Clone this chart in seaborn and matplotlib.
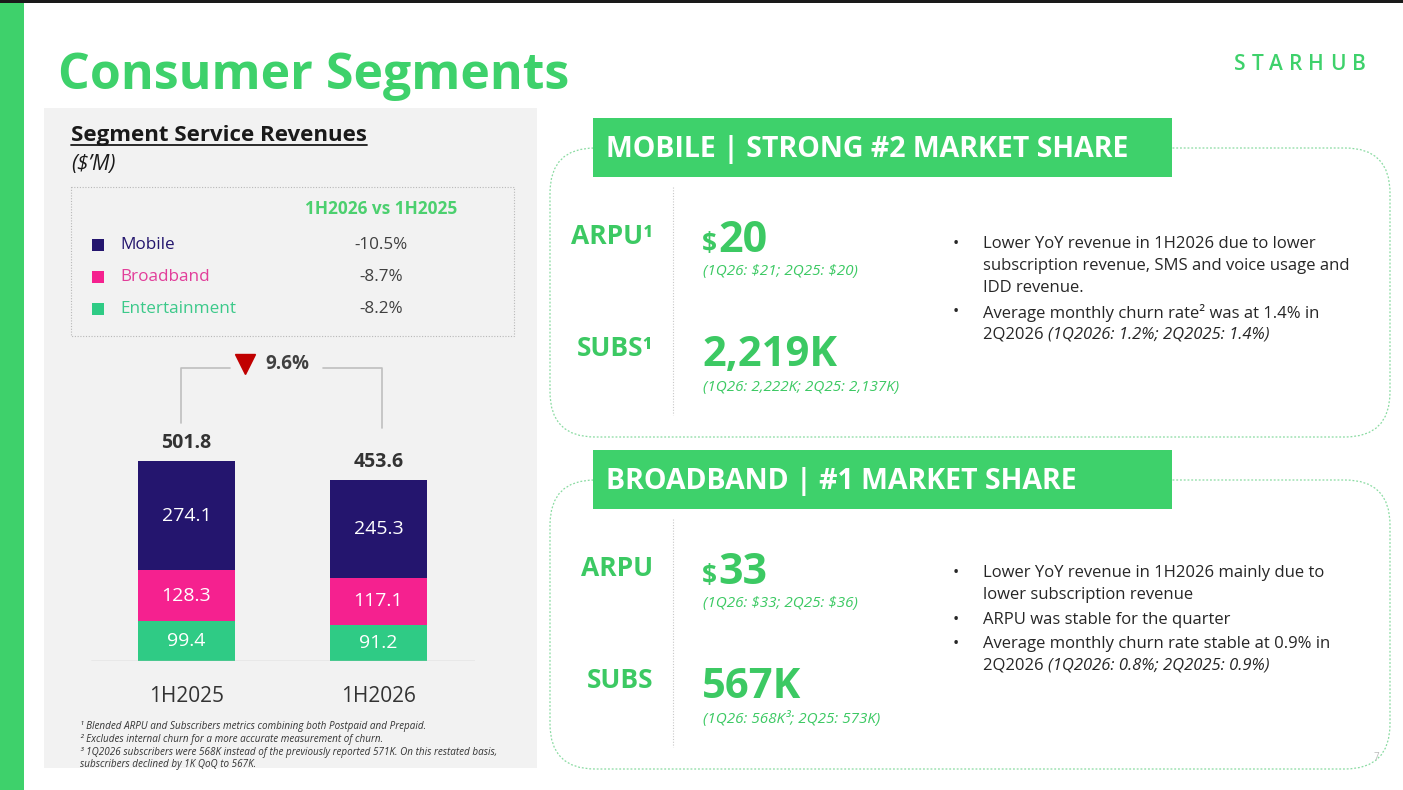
import matplotlib
matplotlib.use("Agg")
import numpy as np
import pandas as pd
import matplotlib.pyplot as plt
import seaborn as sns
from matplotlib.patches import Rectangle, FancyBboxPatch

# ---- data ----
periods = ["1H2025", "1H2026"]
segments = ["Mobile", "Broadband", "Entertainment"]
mobile = [274.1, 245.3]
broadband = [128.3, 117.1]
entertainment = [99.4, 91.2]
segment_change = ["-10.5%", "-8.7%", "-8.2%"]
total_change = "9.6%"

panel_titles = ["MOBILE | STRONG #2 MARKET SHARE", "BROADBAND | #1 MARKET SHARE"]
arpu_labels = ["ARPU¹", "ARPU"]
arpu_values = ["20", "33"]
arpu_notes = ["(1Q26: $21; 2Q25: $20)", "(1Q26: $33; 2Q25: $36)"]
subs_labels = ["SUBS¹", "SUBS"]
subs_values = ["2,219K", "567K"]
subs_notes = ["(1Q26: 2,222K; 2Q25: 2,137K)", "(1Q26: 568K³; 2Q25: 573K)"]
mobile_bullets = [
    [("Lower YoY revenue in 1H2026 due to lower", ""),
     ("subscription revenue, SMS and voice usage and", ""),
     ("IDD revenue.", "")],
    [("Average monthly churn rate² was at 1.4% in", ""),
     ("2Q2026 ", "(1Q2026: 1.2%; 2Q2025: 1.4%)")],
]
broadband_bullets = [
    [("Lower YoY revenue in 1H2026 mainly due to", ""),
     ("lower subscription revenue", "")],
    [("ARPU was stable for the quarter", "")],
    [("Average monthly churn rate stable at 0.9% in", ""),
     ("2Q2026 ", "(1Q2026: 0.8%; 2Q2025: 0.9%)")],
]
footnotes = [
    "¹ Blended ARPU and Subscribers metrics combining both Postpaid and Prepaid.",
    "² Excludes internal churn for a more accurate measurement of churn.",
    "³ 1Q2026 subscribers were 568K instead of the previously reported 571K. On this restated basis,",
    "subscribers declined by 1K QoQ to 567K.",
]

GREEN = "#3ED16B"
TXT_GREEN = "#3CC963"
NAVY = "#24156E"
PINK = "#F5218F"
MINT = "#2FCB85"
seg_colors = [NAVY, PINK, MINT]
legend_text_colors = ["#24166E", "#E23E9A", "#3CC98A"]
DARK = "#262626"

sns.set_theme(style="white")
plt.rcParams["font.family"] = ["Open Sans", "DejaVu Sans"]

W, H = 1403, 790
fig = plt.figure(figsize=(W / 100, H / 100), dpi=100)
bg = fig.add_axes([0, 0, 1, 1])
bg.set_xlim(0, W)
bg.set_ylim(H, 0)
bg.axis("off")

# frame
bg.add_patch(Rectangle((0, 0), W, 2.5, color="#1A1A1A", lw=0))
bg.add_patch(Rectangle((0, 2.5), 24, H, color=GREEN, lw=0))
bg.text(58, 89, "Consumer Segments", fontsize=36, fontweight="bold", color=GREEN, va="baseline")

# STARHUB with letter spacing
prev = bg.text(1234, 70, "S", fontsize=15, fontweight="semibold", color=GREEN, va="baseline")
for ch in "TARHUB":
    prev = bg.annotate(ch, xy=(1, 70), xycoords=(prev, "data"), xytext=(4.3, 0),
                       textcoords="offset points", fontsize=15, fontweight="semibold",
                       color=GREEN, va="baseline")

# ---- left panel ----
bg.add_patch(Rectangle((44, 108), 493, 660, color="#F2F2F2", lw=0))
title_txt = bg.text(71, 141, "Segment Service Revenues", fontsize=16, fontweight="bold",
                    color="#1A1A1A", va="baseline")
bg.text(71, 170, "($’M)", fontsize=15, style="italic", color="#1A1A1A", va="baseline",
        parse_math=False)

bg.add_patch(Rectangle((71, 187), 443, 149, fill=False, edgecolor="#B8B8B8", lw=0.8,
                       linestyle=(0, (1, 1.5))))
bg.text(381, 209, "1H2026 vs 1H2025", fontsize=12.4, fontweight="bold", color="#4CD06F",
        ha="center", va="center")
for i, (seg, chg) in enumerate(zip(segments, segment_change)):
    y = 245 + i * 32
    bg.add_patch(Rectangle((92, y - 6), 12, 12, color=seg_colors[i], lw=0))
    bg.text(120, y, seg, fontsize=12.3, color=legend_text_colors[i], va="center")
    bg.text(381, y, chg, fontsize=12.3, color="#404040", va="center", ha="center")

for i, line in enumerate(footnotes):
    bg.text(80, 727 + i * 12.6, line, fontsize=7.1, style="italic", color="#333333", va="center")

# ---- stacked bar chart ----
k = 200 / 501.8  # px per $M
base_px, left_px, right_px = 661, 91, 475
ytop = 760
ax = fig.add_axes([left_px / W, (H - base_px) / H, (right_px - left_px) / W, ytop * k / H])
ax.patch.set_alpha(0)

df = pd.DataFrame({"period": periods, "Mobile": mobile, "Broadband": broadband,
                   "Entertainment": entertainment})
df["ent_bb"] = df["Entertainment"] + df["Broadband"]
df["total"] = df["ent_bb"] + df["Mobile"]

bw = 0.505
sns.barplot(data=df, x="period", y="total", color=NAVY, saturation=1, width=bw, ax=ax, linewidth=0)
sns.barplot(data=df, x="period", y="ent_bb", color=PINK, saturation=1, width=bw, ax=ax, linewidth=0)
sns.barplot(data=df, x="period", y="Entertainment", color=MINT, saturation=1, width=bw, ax=ax, linewidth=0)

for i, row in df.iterrows():
    ax.text(i, row["Entertainment"] / 2, f"{row['Entertainment']:.1f}", ha="center", va="center",
            color="white", fontsize=14)
    ax.text(i, row["Entertainment"] + row["Broadband"] / 2, f"{row['Broadband']:.1f}", ha="center",
            va="center", color="white", fontsize=14)
    ax.text(i, row["ent_bb"] + row["Mobile"] / 2, f"{row['Mobile']:.1f}", ha="center", va="center",
            color="white", fontsize=14)
    ax.annotate(f"{row['total']:.1f}", xy=(i, row["total"]), xytext=(0, 6), textcoords="offset points",
                ha="center", va="bottom", fontsize=14, fontweight="bold", color="#333333")

ax.set_xlim(-0.497, 1.503)
ax.set_ylim(0, ytop)
ax.axhline(0, color="#BFBFBF", lw=1)
ax.set_xlabel("")
ax.set_ylabel("")
ax.set_yticks([])
ax.tick_params(axis="x", length=0, pad=18, labelsize=15, labelcolor="#333333")
for s in ax.spines.values():
    s.set_visible(False)

# bracket showing total change
bc = "#BFBFBF"
ax.plot([-0.029, -0.029, 0.227], [597, 735, 735], color=bc, lw=1.2, clip_on=False)
ax.plot([0.711, 1.018, 1.018], [735, 735, 585], color=bc, lw=1.2, clip_on=False)
ax.plot([0.305], [744], marker="v", markersize=15, color="#C00000", clip_on=False)
ax.text(0.409, 744, total_change, fontsize=13.5, fontweight="bold", color="#404040", va="center")

# ---- right panels ----
bullet_sets = [mobile_bullets, broadband_bullets]
bullet_starts = [244, 573]
for p in range(2):
    off = p * 332
    box = FancyBboxPatch((550, 148 + off), 840, 289, boxstyle="round,pad=0,rounding_size=45",
                         fill=False, edgecolor="#8ADBA2", lw=0.9, linestyle=(0, (1.5, 1.5)))
    bg.add_patch(box)
    bg.add_patch(Rectangle((593, 118 + off), 579, 59, color=GREEN, lw=0))
    bg.text(606, 149 + off, panel_titles[p], fontsize=20.5, fontweight="bold", color="white",
            va="center")
    bg.plot([673, 673], [187 + off, 415 + off], color="#C8C8C8", lw=0.8, linestyle=(0, (1, 1.5)))

    bg.text(653, 244 + off, arpu_labels[p], fontsize=19, fontweight="bold", color=TXT_GREEN,
            ha="right", va="baseline")
    d = bg.text(702, 252 + off, "$", fontsize=19, fontweight="bold", color=TXT_GREEN,
                va="baseline", parse_math=False)
    bg.annotate(arpu_values[p], xy=(1, 252 + off), xycoords=(d, "data"), xytext=(1, 0),
                textcoords="offset points", fontsize=31, fontweight="bold", color=TXT_GREEN,
                va="baseline")
    bg.text(703, 275 + off, arpu_notes[p], fontsize=11, style="italic", color=TXT_GREEN,
            va="baseline", parse_math=False)

    bg.text(653, 356 + off, subs_labels[p], fontsize=19, fontweight="bold", color=TXT_GREEN,
            ha="right", va="baseline")
    bg.text(702, 366 + off, subs_values[p], fontsize=30, fontweight="bold", color=TXT_GREEN,
            va="baseline")
    bg.text(703, 391 + off, subs_notes[p], fontsize=11, style="italic", color=TXT_GREEN,
            va="baseline")

    y = bullet_starts[p]
    for bullet in bullet_sets[p]:
        bg.text(953, y, "•", fontsize=12, color=DARK, va="center")
        for normal, italic in bullet:
            t = bg.text(983, y, normal, fontsize=12, color=DARK, va="center")
            if italic:
                bg.annotate(italic, xy=(1, y), xycoords=(t, "data"), fontsize=12, style="italic",
                            color=DARK, va="center")
            y += 22
        y += 2.5

bg.text(1374, 758, "7", fontsize=7, color="#BBBBBB", va="center")

fig.canvas.draw()
bb = title_txt.get_window_extent().transformed(bg.transData.inverted())
bg.plot([bb.x0, bb.x1], [145, 145], color="#1A1A1A", lw=1.3)

fig.savefig("out.png", dpi=100)
